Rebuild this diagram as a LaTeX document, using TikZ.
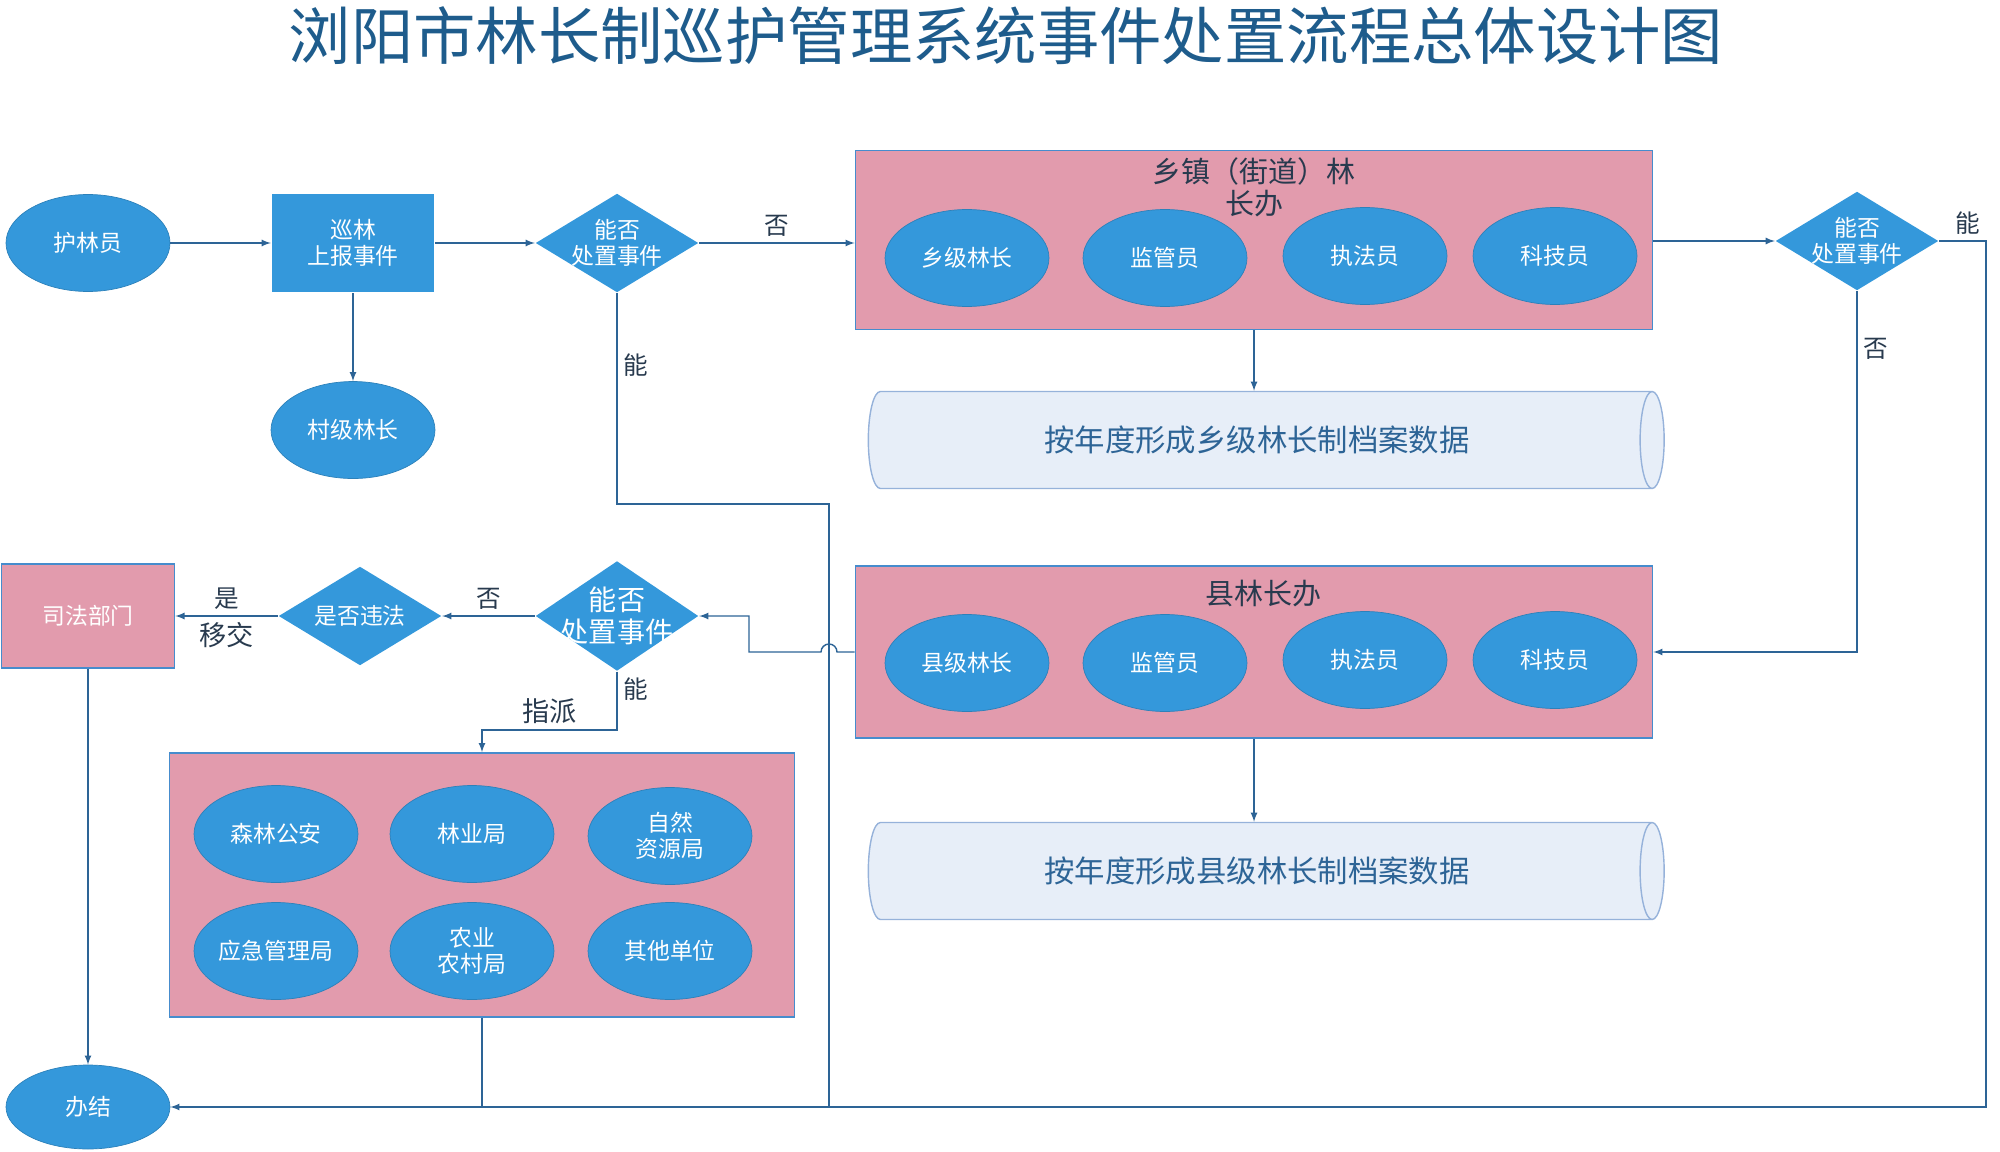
\documentclass[tikz,border=0pt]{standalone}
\usepackage{fontspec}
\setmainfont{Noto Sans CJK SC}
\usepackage{tikz}
\usetikzlibrary{shapes,arrows,positioning,calc}
\definecolor{nodeblue}{RGB}{52,152,219}
\definecolor{edgeblue}{RGB}{45,100,150}
\definecolor{boxpink}{RGB}{226,155,173}
\definecolor{boxline}{RGB}{70,140,205}
\definecolor{archfill}{RGB}{231,238,248}
\definecolor{archline}{RGB}{150,178,218}
\definecolor{titleblue}{RGB}{30,92,140}
\definecolor{labelgray}{RGB}{40,58,78}

\begin{document}
\begin{tikzpicture}[x=0.02cm, y=-0.02cm, line width=0.8pt, node distance=1.76cm, >=latex,
    every node/.style={font=\fontsize{13}{15}\selectfont},
    role/.style={ellipse, fill=nodeblue, draw=nodeblue!85!black, line width=0.4pt, text=white, minimum width=3.28cm, minimum height=1.94cm, inner sep=0pt, align=center},
    task/.style={rectangle, fill=nodeblue, text=white, minimum width=3.26cm, minimum height=1.98cm, align=center},
    decide/.style={diamond, fill=nodeblue, text=white, aspect=1.65, minimum width=3.26cm, minimum height=1.98cm, inner sep=-4pt, align=center},
    office/.style={rectangle, fill=boxpink, draw=boxline, line width=1pt, minimum width=15.94cm, align=center},
    headtext/.style={text=labelgray, font=\fontsize{16.5}{18}\selectfont, align=center},
    archive/.style={cylinder, shape border rotate=0, draw=archline, line width=0.8pt, cylinder uses custom fill, cylinder body fill=archfill, cylinder end fill=archfill, aspect=0.6, minimum width=1.94cm, minimum height=15.92cm, text=edgeblue, font=\fontsize{17.3}{20}\selectfont},
    tag/.style={text=labelgray, font=\fontsize{14}{16}\selectfont},
    flow/.style={->, draw=edgeblue, line width=0.8pt},
    line/.style={draw=edgeblue, line width=0.8pt}]
  \useasboundingbox (0,0) rectangle (2000,1152);

  \node[text=titleblue, font=\fontsize{35.5}{40}\selectfont] (title) at (1006,36) {浏阳市林长制巡护管理系统事件处置流程总体设计图};

  \node[role] (patrol) at (88,243) {护林员};
  \node[task] (report) at (353,243) {巡林\\上报事件};
  \node[role, below=of report] (village) {村级林长};
  \node[decide] (canA) at (617,243) {能否\\处置事件};

  \node[office, minimum height=3.58cm] (town) at (1254,240) {};
  \node[headtext] (towntitle) at (1254,187) {乡镇（街道）林\\长办};
  \node[role] (townlead) at (967,258) {乡级林长};
  \node[role] (townsup) at (1165,258) {监管员};
  \node[role] (townlaw) at (1365,256) {执法员};
  \node[role] (towntech) at (1555,256) {科技员};
  \node[archive] (townarch) at (1257,440) {按年度形成乡级林长制档案数据};
  \node[decide] (canB) at (1857,241) {能否\\处置事件};

  \node[office, minimum height=3.44cm] (county) at (1254,652) {};
  \node[headtext] (countytitle) at (1263,594) {县林长办};
  \node[role] (countylead) at (967,663) {县级林长};
  \node[role] (countysup) at (1165,663) {监管员};
  \node[role] (countylaw) at (1365,660) {执法员};
  \node[role] (countytech) at (1555,660) {科技员};
  \node[archive] (countyarch) at (1257,871) {按年度形成县级林长制档案数据};

  \node[decide, minimum height=2.2cm, inner sep=-5pt, aspect=1.48, font=\fontsize{16}{18}\selectfont] (canC) at (617,616) {能否\\处置事件};
  \node[decide] (illegal) at (360,616) {是否违法};
  \node[office, minimum width=3.46cm, minimum height=2.08cm, text=white] (court) at (88,616) {司法部门};

  \node[office, minimum width=12.5cm, minimum height=5.28cm] (units) at (482,885) {};
  \node[role] (police) at (276,834) {森林公安};
  \node[role] (forestry) at (472,834) {林业局};
  \node[role] (resource) at (670,836) {自然\\资源局};
  \node[role] (emergency) at (276,951) {应急管理局};
  \node[role] (farming) at (472,951) {农业\\农村局};
  \node[role] (others) at (670,951) {其他单位};

  \node[role, minimum height=1.68cm] (done) at (88,1107) {办结};

  \coordinate (rt) at (1986,1107);
  \coordinate (upj) at (829,504);
  \coordinate (hop) at (829,652);
  \coordinate (turnC) at (749,652);
  \coordinate (turnD) at (617,730);

  \draw[flow] (patrol) -- (report);
  \draw[flow] (report) -- (village);
  \draw[flow] (report) -- (canA);
  \draw[flow] (canA.east) -- node[tag, above] (noA) {否} (canA.east -| town.west);
  \draw[flow] (town.south) -- (town.south |- townarch.north);
  \draw[flow] (town.east |- canB) -- (canB.west);
  \draw[flow] (canB.east) -- node[tag, above, pos=0.6] (yesB) {能} (canB.east -| rt) -- (rt) -- (done.east);
  \draw[flow] (canB.south) |- node[tag, right, pos=0.08] (noB) {否} (county.east);
  \draw[flow] (county.south) -- (county.south |- countyarch.north);
  \draw[line] (canA.south) |- node[tag, right, pos=0.17] (yesA) {能} (upj) -- (upj |- rt);
  \draw[flow] (county.west) -- ([xshift=0.16cm]hop) arc[start angle=0, end angle=180, radius=0.16cm] -- (turnC) |- (canC.east);
  \draw[flow] (canC.west) -- node[tag, above] (noC) {否} (illegal.east);
  \draw[flow] (illegal.west) -- node[tag, above] (yesD) {是} node[tag, below, font=\fontsize{15.5}{17}\selectfont] (handD) {移交} (court.east);
  \draw[flow] (court.south) -- (done.north);
  \draw[flow] (canC.south) -- node[tag, right, pos=0.3] (yesC) {能} (turnD) -| node[tag, above, pos=0.25, font=\fontsize{15.5}{17}\selectfont] (sendC) {指派} (units.north);
  \draw[line] (units.south) -- (units.south |- rt);
\end{tikzpicture}
\end{document}
